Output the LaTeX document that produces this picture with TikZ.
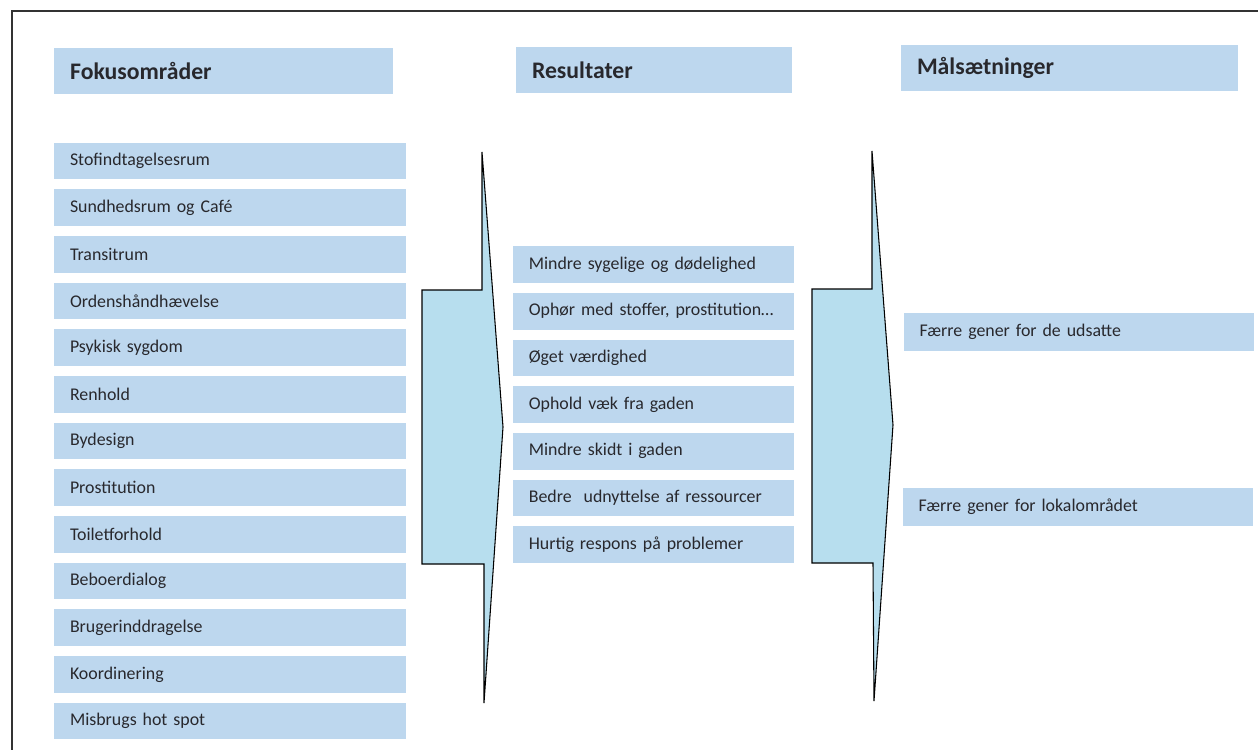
\documentclass[tikz,border=0pt]{standalone}
\usepackage{fontspec}
\setmainfont{Carlito}
\definecolor{boxblue}{RGB}{189,215,238}
\definecolor{arrowblue}{RGB}{183,222,238}
\definecolor{txt}{RGB}{40,40,45}
\tikzset{
  basebox/.style={fill=boxblue, draw=none, inner xsep=12pt, inner ysep=0pt, align=left, text=txt, anchor=center},
  headbox/.style={basebox, font=\fontsize{17.8}{21}\selectfont\bfseries, minimum height=34pt},
  listbox/.style={basebox, font=\fontsize{13.4}{16}\selectfont, minimum height=27.5pt},
  leftcol/.style={listbox, text width=240pt},
  midcol/.style={listbox, text width=187pt},
  rightcol/.style={listbox, text width=239pt, minimum height=28.5pt},
  bigarrow/.style={fill=arrowblue, draw=black, line width=0.8pt, line join=miter},
  frameline/.style={draw=black!80, line width=1.2pt}
}
\begin{document}
\begin{tikzpicture}[x=0.75pt,y=-0.75pt]
\useasboundingbox[fill=white] (0,0) rectangle (1258,750);
% frame
\coordinate (fa) at (12,750);
\coordinate (fb) at (12,11);
\coordinate (fc) at (1258,11);
\draw[frameline] (fa) -- (fb) -- (fc);
% headers
\node[headbox, text width=230pt] (h1) at (223.5,71) {Fokusområder};
\node[headbox, text width=183pt] (h2) at (654,70) {Resultater};
\node[headbox, text width=228.75pt] (h3) at (1069.5,68) {Målsætninger};
% left column
\foreach \t [count=\i] in {Stofindtagelsesrum,Sundhedsrum og Café,Transitrum,Ordenshåndhævelse,Psykisk sygdom,Renhold,Bydesign,Prostitution,Toiletforhold,Beboerdialog,Brugerinddragelse,Koordinering,Misbrugs hot spot}
  \node[leftcol] (f\i) at (230,{161+(\i-1)*46.67}) {\t};
% arrows
\draw[bigarrow] (422,290) -- (482,290) -- (482,152) -- (503,427) -- (484,703) -- (484,564) -- (422,564) -- cycle;
\draw[bigarrow] (812,289) -- (872,289) -- (872,151) -- (893,425) -- (874,701) -- (873,563) -- (812,563) -- cycle;
% middle column
\foreach \t [count=\i] in {Mindre sygelige og dødelighed,Ophør med stoffer{,} prostitution…,Øget værdighed,Ophold væk fra gaden,Mindre skidt i gaden,Bedre\ \ udnyttelse af ressourcer,Hurtig respons på problemer}
  \node[midcol] (r\i) at (653.5,{264.5+(\i-1)*46.67}) {\t};
% right column
\node[rightcol] (m1) at (1079,332) {Færre gener for de udsatte};
\node[rightcol] (m2) at (1078,507) {Færre gener for lokalområdet};
\end{tikzpicture}
\end{document}
